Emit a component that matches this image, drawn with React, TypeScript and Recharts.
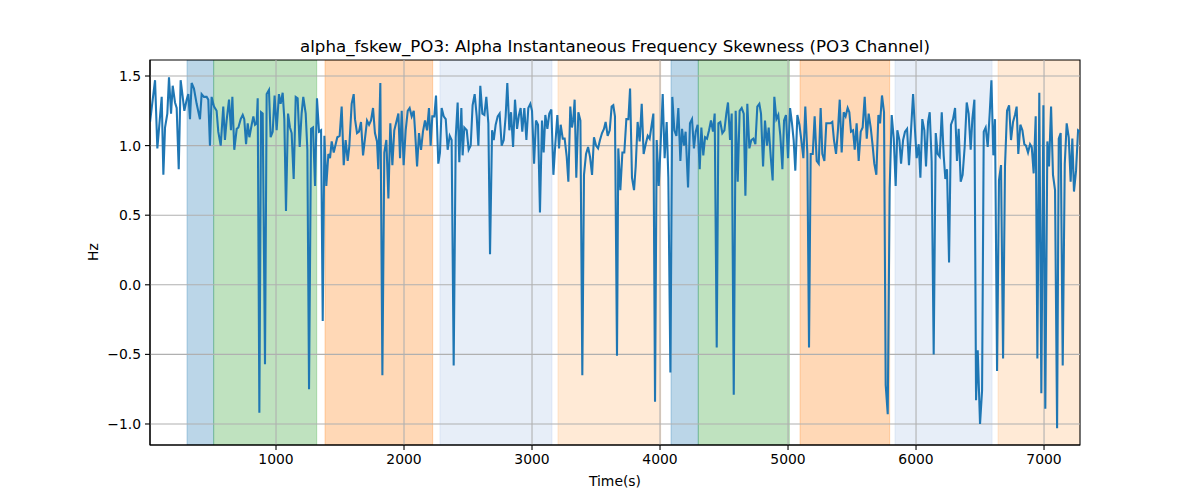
import React from 'react';
import { ComposedChart, Line, XAxis, YAxis, ReferenceArea, ReferenceLine } from 'recharts';

// Signal samples [time (s), value (Hz)], split by section of the recording
const sectionA: [number, number][] = [
  [16,1.17],[55,1.47],[73,0.98],[107,1.35],[120,0.79],[133,1.13],[151,1.23],[164,1.49],[180,1.23],[193,1.43],
  [211,1.31],[224,1.27],[240,0.83],[255,1.47],[271,1.35],[284,1.25],[302,1.33],[315,1.37],[328,1.19],[341,1.45],
  [359,1.41],[380,1.30],[406,1.19],[419,1.37],[437,1.35],[458,1.35],[471,1.33],[484,1.00],[497,1.35],[516,1.28],
  [536,1.25],[549,1.10],[568,1.00],[588,1.28],[601,1.04],[614,1.18],[633,1.33],[648,1.11],[659,1.35],[674,0.97],
  [693,1.12],[706,1.13],[724,1.19],[740,1.22],[752,1.19],[766,1.01],[779,1.16],[792,1.06],[810,1.15],[823,1.21],
  [836,1.15],[849,1.16],[857,1.34],[870,-0.92],[883,1.24],[896,1.23],[914,-0.57],[927,1.37],[945,1.40],[958,1.06],
  [974,1.10],[989,1.36],[1005,1.11],[1023,1.37],[1036,1.30],[1052,1.38],[1065,1.19],[1078,0.53],[1094,1.23],[1109,1.13],
  [1122,1.09],[1138,0.76],[1154,1.35],[1169,1.34],[1185,0.99],[1200,1.23],[1213,1.35],[1232,1.23],[1245,0.97],[1258,-0.75],
];
const sectionB: [number, number][] = [
  [1274,1.12],[1289,1.13],[1305,0.71],[1320,1.34],[1336,1.10],[1352,1.11],[1365,-0.26],[1378,1.07],[1393,0.71],[1409,0.94],
  [1422,0.91],[1435,1.03],[1451,0.95],[1466,1.01],[1479,1.06],[1497,1.07],[1513,1.28],[1529,0.86],[1544,1.04],[1560,0.89],
  [1573,1.00],[1591,1.30],[1607,1.37],[1617,1.19],[1633,1.09],[1648,1.10],[1664,1.17],[1680,0.93],[1695,1.05],[1711,1.18],
  [1727,1.15],[1742,1.18],[1758,1.27],[1773,1.09],[1789,1.03],[1799,0.83],[1815,1.45],[1831,-0.65],[1846,0.95],[1862,1.04],
  [1878,0.62],[1893,1.16],[1909,0.86],[1924,1.11],[1940,1.17],[1956,1.23],[1969,0.91],[1982,1.25],[1997,0.86],[2013,1.11],
  [2029,1.25],[2044,1.27],[2060,1.21],[2076,1.25],[2086,1.11],[2102,0.85],[2117,1.09],[2133,0.97],[2148,1.10],[2164,1.18],
  [2180,1.11],[2195,1.27],[2208,1.00],[2221,1.21],[2237,1.21],[2250,1.36],[2268,0.87],[2281,0.95],[2294,1.27],[2310,1.21],
  [2326,1.19],[2341,0.97],[2357,1.07],[2372,1.04],[2388,-0.58],[2404,1.06],[2419,1.31],[2432,0.88],
];
const sectionC: [number, number][] = [
  [2448,1.27],[2458,0.93],[2471,1.13],[2490,1.11],[2505,0.97],[2521,1.00],[2536,1.29],[2552,1.37],[2568,1.21],[2581,1.00],
  [2596,1.43],[2612,1.23],[2628,1.22],[2643,1.35],[2659,1.16],[2672,0.22],[2688,1.11],[2701,1.04],[2716,1.15],[2732,1.21],
  [2747,1.23],[2763,1.00],[2779,1.04],[2794,1.21],[2807,1.45],[2823,1.11],[2836,1.24],[2852,0.99],[2867,1.33],[2883,1.12],
  [2898,1.22],[2911,1.27],[2924,1.10],[2940,1.27],[2956,1.04],[2971,1.27],[2987,1.30],[3000,1.25],[3016,0.87],[3031,1.18],
  [3047,1.15],[3062,0.52],[3078,1.18],[3091,0.95],[3104,1.22],[3120,1.12],[3135,1.23],[3151,1.26],[3167,0.79],[3182,1.01],
  [3198,1.22],[3211,0.98],[3224,1.15],[3240,1.05],[3255,1.05],[3271,0.92],[3284,0.74],[3299,1.28],[3312,1.13],[3323,1.19],
  [3333,1.33],[3346,0.77],[3362,1.24],[3378,1.18],[3393,-0.65],[3406,0.79],[3422,0.94],[3438,0.99],[3453,0.92],[3469,0.79],
  [3484,1.06],[3500,1.00],[3516,0.98],[3531,1.04],[3547,1.09],[3562,1.12],[3575,1.17],[3591,1.07],[3607,1.11],[3622,1.28],
  [3635,1.29],[3648,1.21],[3664,-0.51],
];
const sectionD: [number, number][] = [
  [3674,0.98],[3690,0.68],[3706,0.95],[3721,0.95],[3737,1.19],[3753,1.19],[3766,1.41],[3781,0.77],[3797,0.68],[3810,0.85],
  [3825,1.17],[3841,1.03],[3857,1.30],[3872,0.94],[3888,1.01],[3904,1.07],[3919,1.05],[3935,1.15],[3948,1.23],[3961,-0.84],
  [3974,1.04],[3990,0.71],[4005,1.01],[4021,1.37],[4036,0.91],[4052,1.17],[4065,0.77],[4081,-0.63],[4096,1.35],[4112,1.11],
  [4128,1.07],[4143,1.27],[4159,0.89],[4172,1.12],[4187,1.00],[4200,1.10],[4219,0.70],[4234,1.16],[4250,1.19],[4265,0.98],
  [4279,1.10],[4294,1.15],[4310,0.83],[4323,1.13],[4338,0.93],[4352,1.06],[4367,1.05],[4383,1.11],[4398,1.18],[4414,1.10],
  [4427,1.23],[4443,-0.45],[4456,1.16],[4471,1.17],[4487,1.09],[4503,1.11],[4518,1.23],[4531,1.31],[4547,1.04],[4560,1.23],
  [4576,-0.79],[4591,1.25],[4607,0.74],[4622,1.25],[4638,1.27],[4654,1.23],[4667,0.64],[4682,1.30],[4698,0.98],[4713,1.04],
  [4729,1.05],[4745,1.01],[4760,1.28],[4776,1.30],[4789,1.23],[4805,0.85],[4820,1.18],[4836,1.00],[4849,1.13],[4865,0.92],
  [4880,0.75],
];
const sectionE: [number, number][] = [
  [4893,1.35],[4909,1.19],[4924,1.22],[4940,1.07],[4956,0.83],[4969,1.18],[4984,1.22],[5000,0.91],[5016,1.27],[5031,1.16],
  [5044,1.04],[5057,0.82],[5073,1.22],[5089,1.15],[5104,1.04],[5120,0.91],[5135,1.28],[5151,0.94],[5164,-0.45],[5177,0.94],
  [5193,0.94],[5208,1.21],[5224,0.89],[5240,0.87],[5255,1.27],[5268,0.94],[5284,0.89],[5299,1.16],[5315,1.16],[5331,1.16],
  [5346,1.17],[5359,1.04],[5375,0.94],[5390,1.11],[5404,1.33],[5419,0.95],[5435,1.24],[5450,1.21],[5466,1.27],[5479,1.24],
  [5492,1.10],[5508,1.11],[5521,0.97],[5536,1.16],[5552,0.89],[5568,1.10],[5583,1.13],[5599,1.35],[5615,1.05],[5630,1.23],
  [5646,1.13],[5661,1.00],[5674,0.87],[5690,0.79],[5706,1.22],[5719,1.16],[5734,1.36],[5750,1.24],[5763,-0.72],[5779,-0.93],
  [5794,0.69],[5810,1.22],[5826,1.05],[5841,0.71],[5854,1.11],[5870,1.04],[5883,0.87],[5899,1.04],[5914,1.10],[5930,1.12],
  [5945,0.86],[5961,1.11],[5977,1.37],[5992,1.11],[6005,0.91],[6021,1.01],[6034,0.77],[6049,1.19],[6065,1.11],[6078,0.85],
  [6094,1.17],[6107,1.24],
];
const sectionF: [number, number][] = [
  [6122,0.89],[6138,-0.50],[6154,1.09],[6169,0.94],[6185,0.92],[6201,1.24],[6216,0.93],[6229,0.76],[6242,0.83],[6258,0.16],
  [6273,1.15],[6289,1.19],[6305,1.27],[6320,0.89],[6333,1.12],[6349,0.74],[6364,0.79],[6380,0.99],[6396,1.31],[6411,1.23],
  [6427,0.97],[6440,1.19],[6456,1.33],[6469,-0.83],[6482,-0.47],[6500,-1.00],[6516,-0.76],[6529,1.10],[6544,1.13],[6560,0.99],
  [6576,1.24],[6589,1.47],[6604,0.93],[6617,1.19],[6633,-0.62],[6648,0.75],[6664,0.86],[6680,-0.53],[6695,0.85],[6711,1.25],
  [6727,1.29],[6742,1.04],[6758,1.17],[6773,1.22],[6786,1.28],[6799,0.94],[6815,1.15],[6831,1.11],[6846,1.01],[6859,1.00],
  [6875,0.95],[6891,1.01],[6904,0.99],[6919,0.80],[6935,1.21],[6948,-0.53],[6963,1.38],[6979,-0.78],[6995,1.29],[7010,-0.89],
  [7026,1.03],[7039,0.85],[7055,1.28],[7070,0.79],[7086,0.68],[7102,-1.03],[7115,1.05],[7130,1.09],[7146,-0.58],[7162,0.87],
  [7177,1.16],[7193,1.06],[7208,0.74],[7221,1.05],[7234,0.67],[7250,0.82],[7266,1.11],[7281,1.10],
];

// Shaded stage intervals [start, end, stage]
const stages: [number, number, string][] = [
  [305, 513, 'A'], [513, 1318, 'B'], [1383, 2224, 'C'], [2281, 3156, 'D'], [3203, 4005, 'E'],
  [4086, 4299, 'A'], [4299, 5010, 'B'], [5094, 5794, 'C'], [5836, 6594, 'D'], [6641, 7300, 'E'],
];

const xTicks = [1000, 2000, 3000, 4000, 5000, 6000, 7000];
const yTicks = [-1.0, -0.5, 0.0, 0.5, 1.0, 1.5];
const xDomain: [number, number] = [15.6, 7281];
const yDomain: [number, number] = [-1.151, 1.615];

const stageColors: Record<string, string> = {
  A: '#1f77b4',
  B: '#2ca02c',
  C: '#ff7f0e',
  D: '#aec7e8',
  E: '#ffbb78',
};

const FONT = 'DejaVu Sans, sans-serif';

const data = [...sectionA, ...sectionB, ...sectionC, ...sectionD, ...sectionE, ...sectionF].map(([t, v]) => ({ t, v }));

const fmtY = (v: number) => (v < 0 ? '\u2212' + Math.abs(v).toFixed(1) : v.toFixed(1));

export default function App() {
  const tickStyle = { fill: '#000', fontSize: 13.9, fontFamily: FONT };
  return (
    <div style={{ position: 'absolute', left: 0, top: 0, width: 1200, height: 500, background: '#fff' }}>
      <ComposedChart width={1200} height={500} data={data} margin={{ top: 60, right: 120, left: 90, bottom: 25 }}>
        <XAxis
          dataKey="t"
          type="number"
          domain={xDomain}
          allowDataOverflow
          ticks={xTicks}
          tickFormatter={(v: number) => String(v)}
          tick={tickStyle}
          tickSize={5}
          tickMargin={4}
          height={30}
          axisLine={{ stroke: '#000', strokeWidth: 1.1 }}
          tickLine={{ stroke: '#000', strokeWidth: 1.1 }}
        />
        <YAxis
          type="number"
          domain={yDomain}
          allowDataOverflow
          ticks={yTicks}
          tickFormatter={fmtY}
          tick={tickStyle}
          tickSize={5}
          tickMargin={4}
          width={60}
          axisLine={{ stroke: '#000', strokeWidth: 1.1 }}
          tickLine={{ stroke: '#000', strokeWidth: 1.1 }}
        />
        {stages.map(([s, e, k], i) => (
          <ReferenceArea
            key={'st' + i}
            x1={s}
            x2={e}
            ifOverflow="hidden"
            fill={stageColors[k]}
            fillOpacity={0.3}
            stroke={stageColors[k]}
            strokeOpacity={0.3}
            strokeWidth={1}
          />
        ))}
        {xTicks.map((x) => (
          <ReferenceLine key={'gx' + x} x={x} stroke="#b0b0b0" strokeWidth={1.1} />
        ))}
        {yTicks.map((y) => (
          <ReferenceLine key={'gy' + y} y={y} stroke="#b0b0b0" strokeWidth={1.1} />
        ))}
        <Line
          dataKey="v"
          type="linear"
          stroke="#1f77b4"
          strokeWidth={2.08}
          dot={false}
          activeDot={false}
          isAnimationActive={false}
        />
        <ReferenceArea
          x1={xDomain[0]}
          x2={xDomain[1]}
          y1={yDomain[0]}
          y2={yDomain[1]}
          fill="none"
          stroke="#000"
          strokeWidth={1.1}
          ifOverflow="visible"
        />
      </ComposedChart>
      <svg width={1200} height={500} style={{ position: 'absolute', left: 0, top: 0, pointerEvents: 'none' }}>
        <text x={615} y={52} textAnchor="middle" fontSize={16.67} fontFamily={FONT} fill="#000">
          alpha_fskew_PO3: Alpha Instantaneous Frequency Skewness (PO3 Channel)
        </text>
        <text x={615} y={486} textAnchor="middle" fontSize={13.9} fontFamily={FONT} fill="#000">
          Time(s)
        </text>
        <text x={98} y={252} textAnchor="middle" fontSize={13.9} fontFamily={FONT} fill="#000" transform="rotate(-90, 98, 252)">
          Hz
        </text>
      </svg>
    </div>
  );
}
